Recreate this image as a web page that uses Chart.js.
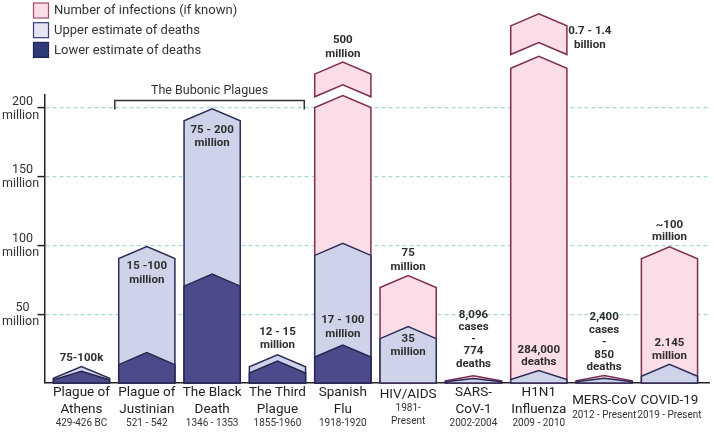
<!DOCTYPE html>
<html><head><meta charset="utf-8">
<script src="https://cdn.jsdelivr.net/npm/chart.js@4.4.1/dist/chart.umd.min.js"></script>
<style>html,body{margin:0;padding:0;background:#fff;}canvas{display:block;}</style>
</head><body>
<canvas id="c" width="714" height="432"></canvas>
<script>
// ---------- data (millions) ----------
const CATEGORY_NAMES = [["Plague of","Athens"],["Plague of","Justinian"],["The Black","Death"],["The Third","Plague"],["Spanish","Flu"],["HIV/AIDS"],["SARS-","CoV-1"],["H1N1","Influenza"],["MERS-CoV"],["COVID-19"]];
const CATEGORY_YEARS = [["429-426 BC"],["521 - 542"],["1346 - 1353"],["1855-1960"],["1918-1920"],["1981-","Present"],["2002-2004"],["2009 - 2010"],["2012 - Present"],["2019 - Present"]];
const INFECTIONS      = [null, null, null, null, 208.6, 78, 5.3, 237.1, 5.5, 98.8];
const INFECTION_BREAK = [null, null, null, null, [216.4, 232.9], null, null, [247.1, 267.9], null, null];
const UPPER_DEATHS    = [12, 99, 199, 20.5, 101.3, 40.9, 3.3, 9.1, 3.5, 13.6];
const LOWER_DEATHS    = [8.5, 22, 79, 15.9, 27.5, null, null, null, null, null];
const Y_TICKS = [50, 100, 150, 200];
const Y_TICK_UNIT = "million";
const LEGEND_LABELS = ["Number of infections (if known)", "Upper estimate of deaths", "Lower estimate of deaths"];
const BRACKET_TITLE = "The Bubonic Plagues";
const VALUE_TEXTS = [
  ["75-100k"], ["15 -100","million"], ["75 - 200","million"], ["12 - 15","million"],
  ["500","million"], ["17 - 100","million"], ["75","million"], ["35","million"],
  ["8,096","cases","-","774","deaths"], ["284,000","deaths"], ["0.7 - 1.4","billion"],
  ["2,400","cases","-","850","deaths"], ["~100","million"], ["2.145","million"]
];

// ---------- styles / placement ----------
const INF_FILL = '#fadde6', INF_STROKE = '#7e2d52';
const UP_FILL = '#ced3e9', UP_STROKE = '#2c2c57';
const LOW_FILL = '#4b4b8b', LOW_STROKE = '#262650';
const TEXT = '#2e2e2e';
const FONT = 'Roboto, "Noto Sans", sans-serif';
// label placement: [category, reference series, dy px from its peak, dx px, line gap]
const VALUE_PLACEMENT = [
  [0,'up',-8,0,13.5],[1,'up',20,0,13.5],[2,'up',21,0,13.5],[3,'up',-23,0,13.5],
  [4,'brk',-22,0,14],[4,'low',-24.5,0,14],[5,'inf',-22,0,14],[5,'up',12,0,13.5],
  [6,'inf',-61,0,12.3],[7,'up',-20,0,12],[7,'brk',17,51,14],
  [8,'inf',-58,0,12.5],[9,'inf',-22,0,12.5],[9,'up',-21,0,12.5]
];
const BRACKET_RANGE = [0.51, 3.41];

const pts = arr => arr.map((v,i)=> v==null?null:{x:i,y:v}).filter(Boolean);

function chevronPath(ctx, x, w, top, base, floating) {
  const l = x - w/2, r = x + w/2;
  if (!floating) {
    const h = Math.min(12, (base - top) * 0.72);
    ctx.beginPath();
    ctx.moveTo(l, base); ctx.lineTo(l, top + h); ctx.lineTo(x, top);
    ctx.lineTo(r, top + h); ctx.lineTo(r, base); ctx.closePath();
  } else {
    const h = 12;
    ctx.beginPath();
    ctx.moveTo(l, top + h); ctx.lineTo(x, top); ctx.lineTo(r, top + h);
    ctx.lineTo(r, base + h); ctx.lineTo(x, base); ctx.lineTo(l, base + h); ctx.closePath();
  }
}

const shapePlugin = {
  id: 'shapes',
  beforeDatasetDraw(chart, args) {
    const ctx = chart.ctx;
    const ds = chart.data.datasets[args.index];
    const floating = ds.floatingPiece === true;
    ctx.save();
    ctx.lineJoin = 'miter';
    ctx.lineWidth = 1.5;
    args.meta.data.forEach(el => {
      const p = el.getProps(['x','y','base','width'], true);
      chevronPath(ctx, p.x, p.width, p.y, p.base, floating);
      ctx.fillStyle = ds.backgroundColor; ctx.fill();
      ctx.strokeStyle = ds.borderColor; ctx.stroke();
    });
    ctx.restore();
    return false;
  },
  afterDraw(chart) {
    const ctx = chart.ctx, xs = chart.scales.x, ys = chart.scales.y, area = chart.chartArea;
    ctx.save();
    ctx.fillStyle = TEXT; ctx.textAlign = 'center'; ctx.textBaseline = 'middle';
    // y tick labels
    ctx.font = '12.5px ' + FONT; ctx.fillStyle = '#333';
    Y_TICKS.forEach(v => {
      const y = ys.getPixelForValue(v);
      ctx.fillText(String(v), area.left - 22, y - 6);
      ctx.fillText(Y_TICK_UNIT, area.left - 24, y + 8);
    });
    // category labels
    CATEGORY_NAMES.forEach((names, i) => {
      const x = xs.getPixelForValue(i);
      const lines = names.map(t => ({t, big:true})).concat(CATEGORY_YEARS[i].map(t => ({t, big:false})));
      const gaps = [];
      for (let k = 1; k < lines.length; k++) gaps.push(lines[k-1].big && lines[k].big ? 17 : (lines[k-1].big ? 14.5 : 13));
      const H = gaps.reduce((a,b)=>a+b,0);
      let y = area.bottom + 25 - H/2;
      lines.forEach((ln, k) => {
        if (k > 0) y += gaps[k-1];
        ctx.font = (ln.big ? '13.5px ' : '10px ') + FONT;
        ctx.fillStyle = ln.big ? '#222' : '#333';
        ctx.fillText(ln.t, x, y, 64);
      });
    });
    // value labels
    ctx.font = 'bold 11.5px ' + FONT; ctx.fillStyle = TEXT;
    const series = {inf: INFECTIONS, up: UPPER_DEATHS, low: LOWER_DEATHS};
    VALUE_PLACEMENT.forEach((pl, n) => {
      const [i, ref, dy, dx, gap] = pl;
      const v = ref === 'brk' ? INFECTION_BREAK[i][1] : series[ref][i];
      const peak = ys.getPixelForValue(v);
      const x = xs.getPixelForValue(i) + dx;
      VALUE_TEXTS[n].forEach((t, k) => ctx.fillText(t, x, peak + dy + k * gap));
    });
    // bracket
    const g200 = ys.getPixelForValue(200);
    const bl = xs.getPixelForValue(BRACKET_RANGE[0]), br = xs.getPixelForValue(BRACKET_RANGE[1]);
    ctx.strokeStyle = '#333'; ctx.lineWidth = 1.5;
    ctx.beginPath();
    ctx.moveTo(bl, g200 + 2); ctx.lineTo(bl, g200 - 7); ctx.lineTo(br, g200 - 7); ctx.lineTo(br, g200 + 2);
    ctx.stroke();
    ctx.font = '12.5px ' + FONT; ctx.fillStyle = '#333';
    ctx.fillText(BRACKET_TITLE, (bl + br) / 2, g200 - 17);
    // legend
    const legend = [[INF_FILL, '#a34a6e'], ['#e4e4f5', '#3b3b78'], ['#2f3a78', '#1f2556']];
    ctx.textAlign = 'left'; ctx.font = '13px ' + FONT; ctx.fillStyle = '#333';
    legend.forEach((c, k) => {
      const y = 3 + k * 19.7;
      ctx.fillStyle = c[0]; ctx.fillRect(33.5, y, 15, 15);
      ctx.strokeStyle = c[1]; ctx.lineWidth = 1.2; ctx.strokeRect(33.5, y, 15, 15);
      ctx.fillStyle = '#333';
      ctx.fillText(LEGEND_LABELS[k], 54, y + 8);
    });
    ctx.restore();
  }
};

new Chart(document.getElementById('c'), {
  type: 'bar',
  data: {
    datasets: [
      {label: LEGEND_LABELS[2], data: pts(LOWER_DEATHS), backgroundColor: LOW_FILL, borderColor: LOW_STROKE},
      {label: LEGEND_LABELS[1], data: pts(UPPER_DEATHS), backgroundColor: UP_FILL, borderColor: UP_STROKE},
      {label: LEGEND_LABELS[0], data: pts(INFECTIONS), backgroundColor: INF_FILL, borderColor: INF_STROKE},
      {label: LEGEND_LABELS[0] + ' (axis break)', data: pts(INFECTION_BREAK), backgroundColor: INF_FILL, borderColor: INF_STROKE, floatingPiece: true}
    ]
  },
  options: {
    responsive: false, animation: false, devicePixelRatio: 1,
    layout: {padding: {left: 37.5, right: 5, top: 95, bottom: 49}},
    plugins: {legend: {display: false}, tooltip: {enabled: false}},
    datasets: {bar: {grouped: false, barPercentage: 0.86, categoryPercentage: 1}},
    scales: {
      x: {type: 'linear', min: -0.566, max: 9.605, offset: false,
          afterBuildTicks: s => { s.ticks = CATEGORY_NAMES.map((_, i) => ({value: i})); },
          ticks: {display: false}, grid: {display: false, drawTicks: false, offset: false},
          border: {display: true, color: '#222', width: 1.5}},
      y: {min: 0, max: 209,
          afterBuildTicks: s => { s.ticks = Y_TICKS.map(v => ({value: v})); },
          ticks: {display: false},
          grid: {color: '#a8d9d5', lineWidth: 1.2, drawTicks: true, tickLength: 7, tickColor: '#222', tickWidth: 1.5, tickBorderDash: []},
          border: {display: true, color: '#222', width: 1.5, dash: [4, 3]}}
    }
  },
  plugins: [shapePlugin]
});
</script>
</body></html>
